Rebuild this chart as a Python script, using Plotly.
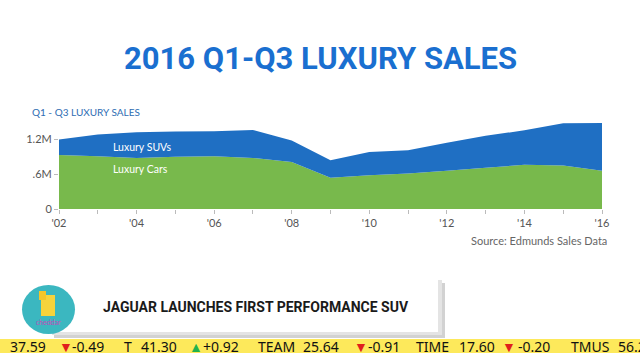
import plotly.graph_objects as go

years = list(range(2002, 2017))
tick_labels = ["'02", "", "'04", "", "'06", "", "'08", "", "'10", "", "'12", "", "'14", "", "'16"]
# millions of units
luxury_cars = [0.93, 0.91, 0.88, 0.90, 0.91, 0.88, 0.81, 0.54, 0.58, 0.61, 0.66, 0.71, 0.76, 0.75, 0.66]
total_sales = [1.195, 1.285, 1.32, 1.335, 1.34, 1.36, 1.18, 0.84, 0.98, 1.01, 1.14, 1.26, 1.355, 1.475, 1.48]
luxury_suvs = [round(t - c, 3) for t, c in zip(total_sales, luxury_cars)]

ticker_items = [
    ("37.59", 8, "#111"), ("▼", 57, "#e0201c"), ("-0.49", 70, "#111"),
    ("T", 122, "#111"), ("41.30", 139, "#111"), ("▲", 187, "#22b14c"), ("+0.92", 201, "#111"),
    ("TEAM", 256, "#111"), ("25.64", 301, "#111"), ("▼", 352, "#e0201c"), ("-0.91", 366, "#111"),
    ("TIME", 414, "#111"), ("17.60", 457, "#111"), ("▼", 500, "#e0201c"), ("-0.20", 516, "#111"),
    ("TMUS", 569, "#111"), ("56.2", 616, "#111"),
]

W, H = 640, 360
ML, MR, MT, MB = 59, 38, 119, 151
PW, PH = W - ML - MR, H - MT - MB

def fx(x):
    return (x - ML) / PW

def fy(y):
    return (H - MB - y) / PH

fig = go.Figure()
fig.add_trace(go.Scatter(x=years, y=luxury_cars, stackgroup="s", mode="none",
                         fillcolor="#78b94c", name="Luxury Cars"))
fig.add_trace(go.Scatter(x=years, y=luxury_suvs, stackgroup="s", mode="none",
                         fillcolor="#1f6fc3", name="Luxury SUVs"))

fig.update_layout(
    width=W, height=H,
    margin=dict(l=ML, r=MR, t=MT, b=MB),
    paper_bgcolor="white", plot_bgcolor="white",
    showlegend=False,
    font=dict(family="Lato, DejaVu Sans", color="#555"),
    xaxis=dict(range=[2002, 2016], tickvals=years, ticktext=tick_labels,
               showgrid=False, zeroline=False, showline=False,
               ticks="outside", ticklen=4, tickcolor="#bbb",
               tickfont=dict(size=11, color="#555")),
    yaxis=dict(range=[0, 1.55], tickvals=[0, 0.6, 1.2], ticktext=["0", ".6M", "1.2M"],
               showgrid=False, zeroline=False, showline=False,
               ticks="outside", ticklen=4, tickcolor="#bbb",
               tickfont=dict(size=11, color="#555")),
)

ann = [
    dict(text="<b>2016 Q1-Q3 LUXURY SALES</b>", x=320, y=59, font=dict(family="Roboto", size=31, color="#1a6fd0")),
    dict(text="Q1 - Q3 LUXURY SALES", x=30, y=112, xanchor="left", font=dict(size=10, color="#2e6db3")),
    dict(text="Luxury SUVs", x=111, y=147, xanchor="left", font=dict(size=10.5, color="white")),
    dict(text="Luxury Cars", x=111, y=169, xanchor="left", font=dict(size=10.5, color="white")),
    dict(text="Source: Edmunds Sales Data", x=609, y=240, xanchor="right", font=dict(size=11, color="#666")),
    dict(text="<b>JAGUAR LAUNCHES FIRST PERFORMANCE SUV</b>", x=101, y=307, xanchor="left",
         font=dict(family="Roboto", size=14, color="#1a1a1a")),
    dict(text="cheddar", x=48, y=322, font=dict(size=7, color="#c24ab8")),
]
for text, x, col in ticker_items:
    ann.append(dict(text=text, x=x, y=346, xanchor="left",
                    font=dict(family="Noto Sans", size=14, color=col)))
for a in ann:
    a.setdefault("xanchor", "center")
    fig.add_annotation(xref="paper", yref="paper", showarrow=False, yanchor="middle",
                       x=fx(a.pop("x")), y=fy(a.pop("y")), **a)

def px(x0, y0, x1, y1):
    return dict(xref="paper", yref="paper", x0=fx(x0), x1=fx(x1), y0=fy(y0), y1=fy(y1))

shapes = [
    dict(type="rect", fillcolor="#d2d2d2", line_width=0, **px(54, 283, 445, 338)),
    dict(type="rect", fillcolor="#e4e4e4", line_width=0, **px(52, 280, 442, 335)),
    dict(type="rect", fillcolor="white", line_width=0, **px(50, 278, 438, 332)),
    dict(type="rect", fillcolor="#fde95b", line_width=0, **px(0, 339, 640, 353)),
    dict(type="circle", fillcolor="#3bb7c0", line_width=0, **px(22, 285, 75, 334)),
    dict(type="rect", fillcolor="#f6d33c", line_width=0, **px(41, 295, 55, 316)),
    dict(type="rect", fillcolor="#f3c62a", line_width=0, **px(39, 291, 46, 300)),
]
for s in shapes:
    fig.add_shape(layer="below", **s)

fig.write_html("out.html", post_script="document.body.style.margin='0';",
               config={"displayModeBar": False})
